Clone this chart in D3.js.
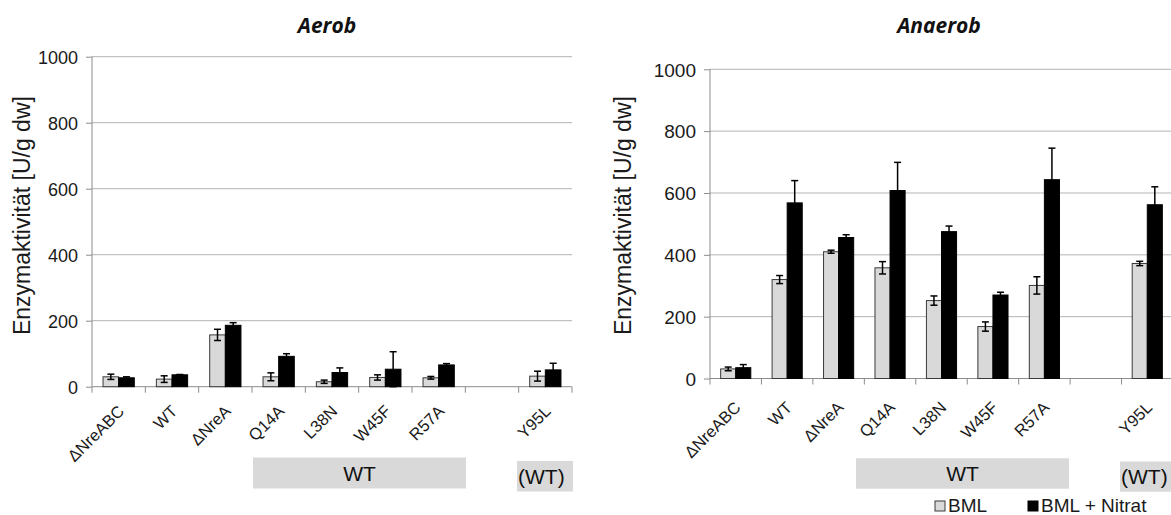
<!DOCTYPE html>
<html>
<head>
<meta charset="utf-8">
<script src="https://cdn.jsdelivr.net/npm/d3@7"></script>
<style>
  html, body { margin: 0; padding: 0; background: #fff; }
  svg { display: block; }
</style>
</head>
<body>
<svg id="chart" width="1171" height="515"></svg>
<script>
// ---------- data ----------
const categories = ["ΔNreABC", "WT", "ΔNreA", "Q14A", "L38N", "W45F", "R57A", "", "Y95L"];
const yTicks = [0, 200, 400, 600, 800, 1000];
const seriesNames = ["BML", "BML + Nitrat"];

const aerobBML        = [30, 23, 157, 30, 15, 28, 27, null, 32];
const aerobBMLErr     = [8, 10, 17, 12, 5, 8, 4, null, 15];
const aerobNitrat     = [27, 36, 186, 92, 43, 53, 66, null, 51];
const aerobNitratErr  = [3, 1, 8, 8, 14, 53, 4, null, 20];

const anaerobBML       = [31, 320, 410, 358, 252, 168, 301, null, 372];
const anaerobBMLErr    = [6, 13, 5, 20, 15, 15, 28, null, 7];
const anaerobNitrat    = [35, 568, 456, 608, 475, 270, 643, null, 562];
const anaerobNitratErr = [10, 72, 9, 91, 18, 9, 102, null, 58];

const groupLabels = ["WT", "(WT)"];
const titles = ["Aerob", "Anaerob"];
const yTitle = "Enzymaktivität [U/g dw]";

// ---------- layout ----------
const svg = d3.select("#chart");
const colBML = "#d9d9d9", colNit = "#000000";
const gridCol = "#b3b3b3", axisCol = "#8c8c8c";
const sans = "'Liberation Sans', Arial, sans-serif";

const panels = [
  { title: titles[0], bml: aerobBML, bmlErr: aerobBMLErr, nit: aerobNitrat, nitErr: aerobNitratErr,
    x0: 92, x1: 572, yTop: 56.7, yBot: 386.7, tickFont: 18, titleX: 327,
    yTitleX: 30, labDx: 6.5, labDy: 25.5,
    boxWT: [253, 466, 457.5, 488.5], boxWT2: [517, 573, 461, 491.5] },
  { title: titles[1], bml: anaerobBML, bmlErr: anaerobBMLErr, nit: anaerobNitrat, nitErr: anaerobNitratErr,
    x0: 710, x1: 1173, yTop: 69.3, yBot: 378.5, tickFont: 19, titleX: 939,
    yTitleX: 631, labDx: 6, labDy: 30,
    boxWT: [856, 1069, 458.3, 488.7], boxWT2: [1120, 1180, 461.5, 491.7] }
];

panels.forEach(p => {
  const g = svg.append("g");
  const x = d3.scaleBand().domain(d3.range(categories.length)).range([p.x0, p.x1]).paddingInner(0).paddingOuter(0);
  const y = d3.scaleLinear().domain([0, 1000]).range([p.yBot, p.yTop]);
  const bw = x.bandwidth();
  const w = bw * 0.293;

  // gridlines
  g.append("g").selectAll("line").data(yTicks.filter(t => t > 0)).join("line")
    .attr("x1", p.x0).attr("x2", p.x1)
    .attr("y1", d => y(d)).attr("y2", d => y(d))
    .attr("stroke", gridCol).attr("stroke-width", 1);

  // y axis
  const yAxis = d3.axisLeft(y).tickValues(yTicks).tickSize(6).tickPadding(8).tickFormat(d3.format("d"));
  const ya = g.append("g").attr("transform", `translate(${p.x0},0)`).call(yAxis);
  ya.select(".domain").attr("stroke", axisCol).attr("d", `M0,${p.yTop}V${p.yBot + 6}`);
  ya.selectAll(".tick line").attr("stroke", axisCol);
  ya.selectAll(".tick text").attr("font-family", sans)
    .attr("font-size", p.tickFont).attr("fill", "#1a1a1a").attr("dy", "0.36em");

  // x axis line and boundary ticks
  g.append("line").attr("x1", p.x0).attr("x2", p.x1).attr("y1", p.yBot).attr("y2", p.yBot)
    .attr("stroke", axisCol).attr("stroke-width", 1);
  g.append("g").selectAll("line").data(d3.range(1, categories.length + 1)).join("line")
    .attr("x1", d => p.x0 + d * bw).attr("x2", d => p.x0 + d * bw)
    .attr("y1", p.yBot).attr("y2", p.yBot + 6)
    .attr("stroke", axisCol);

  const idx = d3.range(categories.length).filter(i => p.bml[i] != null);

  // bars
  g.append("g").selectAll("rect").data(idx).join("rect")
    .attr("x", i => x(i) + bw / 2 - w).attr("width", w)
    .attr("y", i => y(p.bml[i])).attr("height", i => y(0) - y(p.bml[i]))
    .attr("fill", colBML).attr("stroke", "#3a3a3a").attr("stroke-width", 1);
  g.append("g").selectAll("rect").data(idx).join("rect")
    .attr("x", i => x(i) + bw / 2).attr("width", w)
    .attr("y", i => y(p.nit[i])).attr("height", i => y(0) - y(p.nit[i]))
    .attr("fill", colNit).attr("stroke", "#000").attr("stroke-width", 1);

  // error bars
  const drawErr = (vals, errs, cxf) => {
    const eg = g.append("g").attr("stroke", "#000").attr("stroke-width", 1.5);
    idx.forEach(i => {
      const cx = cxf(i), v = vals[i], e = errs[i];
      const yt = y(v + e), yb = y(Math.max(0, v - e));
      eg.append("line").attr("x1", cx).attr("x2", cx).attr("y1", yt).attr("y2", yb);
      eg.append("line").attr("x1", cx - 3.5).attr("x2", cx + 3.5).attr("y1", yt).attr("y2", yt);
      eg.append("line").attr("x1", cx - 3.5).attr("x2", cx + 3.5).attr("y1", yb).attr("y2", yb);
    });
  };
  drawErr(p.bml, p.bmlErr, i => x(i) + bw / 2 - w / 2);
  drawErr(p.nit, p.nitErr, i => x(i) + bw / 2 + w / 2);

  // category labels
  g.append("g").selectAll("text").data(d3.range(categories.length)).join("text")
    .attr("transform", i => `translate(${x(i) + bw / 2 + p.labDx},${p.yBot + p.labDy}) rotate(-45)`)
    .attr("text-anchor", "end")
    .attr("font-family", sans).attr("font-size", 16.5).attr("fill", "#1a1a1a")
    .text(i => categories[i]);

  // title
  g.append("text").attr("x", p.titleX).attr("y", 33).attr("text-anchor", "middle")
    .attr("font-family", "'Open Sans', Lato, sans-serif").attr("font-weight", "bold").attr("font-style", "italic")
    .attr("font-size", 21).attr("fill", "#111").text(p.title);

  // y title
  g.append("text").attr("transform", `translate(${p.yTitleX},215.6) rotate(-90)`)
    .attr("text-anchor", "middle")
    .attr("font-family", sans).attr("font-size", 23).attr("fill", "#1a1a1a")
    .text(yTitle);

  // group boxes
  [p.boxWT, p.boxWT2].forEach((b, k) => {
    g.append("rect").attr("x", b[0]).attr("y", b[2]).attr("width", b[1] - b[0]).attr("height", b[3] - b[2])
      .attr("fill", "#d9d9d9");
    g.append("text").attr("x", k === 0 ? (b[0] + b[1]) / 2 : b[0] + 1).attr("y", (b[2] + b[3]) / 2)
      .attr("dy", "0.36em").attr("text-anchor", k === 0 ? "middle" : "start")
      .attr("font-family", sans).attr("font-size", 21).attr("fill", "#111")
      .text(groupLabels[k]);
  });
});

// legend
const leg = svg.append("g").attr("font-family", sans).attr("font-size", 19).attr("fill", "#1a1a1a");
const legendItems = [
  { name: seriesNames[0], fill: colBML, stroke: "#3a3a3a", x: 935 },
  { name: seriesNames[1], fill: colNit, stroke: "#000", x: 1028 }
];
legendItems.forEach(l => {
  leg.append("rect").attr("x", l.x).attr("y", 501).attr("width", 10).attr("height", 10)
    .attr("fill", l.fill).attr("stroke", l.stroke).attr("stroke-width", 1);
  leg.append("text").attr("x", l.x + 13).attr("y", 512).text(l.name);
});
</script>
</body>
</html>
